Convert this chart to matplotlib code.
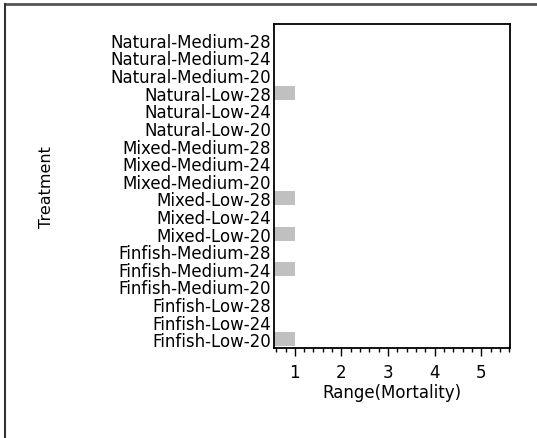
import matplotlib.pyplot as plt
from matplotlib.lines import Line2D
from matplotlib.ticker import MultipleLocator

# Treatments listed bottom to top
treatments = [
    'Finfish-Low-20', 'Finfish-Low-24', 'Finfish-Low-28',
    'Finfish-Medium-20', 'Finfish-Medium-24', 'Finfish-Medium-28',
    'Mixed-Low-20', 'Mixed-Low-24', 'Mixed-Low-28',
    'Mixed-Medium-20', 'Mixed-Medium-24', 'Mixed-Medium-28',
    'Natural-Low-20', 'Natural-Low-24', 'Natural-Low-28',
    'Natural-Medium-20', 'Natural-Medium-24', 'Natural-Medium-28',
]
mortality_range = [1, 0, 0, 0, 1, 0, 1, 0, 1, 0, 0, 0, 0, 0, 1, 0, 0, 0]

plt.rcParams['font.family'] = ['DejaVu Sans']
plt.rcParams['font.size'] = 12

fig = plt.figure(figsize=(5.37, 4.39), dpi=100)
ax = fig.add_axes([0.510, 0.205, 0.440, 0.738])

ypos = list(range(len(treatments)))
ax.barh(ypos, mortality_range, height=0.8, color='#c0c0c0')

ax.set_yticks(ypos)
ax.set_yticklabels(treatments)
ax.tick_params(axis='y', length=0, pad=2)
ax.set_ylim(-0.5, 17.9)

ax.set_xlim(0.55, 5.62)
ax.xaxis.set_major_locator(MultipleLocator(1))
ax.xaxis.set_minor_locator(MultipleLocator(0.2))
ax.tick_params(axis='x', which='major', length=6, width=1, pad=5)
ax.tick_params(axis='x', which='minor', length=3, width=1)

for s in ax.spines.values():
    s.set_linewidth(1.3)
    s.set_color('black')

ax.set_xlabel('Range(Mortality)', labelpad=1)
ax.set_ylabel('Treatment', fontsize=11.5)
ax.yaxis.set_label_coords(-0.93, 0.5)

# partial frame around the whole figure
fig.add_artist(Line2D([5 / 537, 1], [1 - 5 / 439] * 2, transform=fig.transFigure,
                      color='#555555', lw=2))
fig.add_artist(Line2D([5 / 537] * 2, [0, 1 - 5 / 439], transform=fig.transFigure,
                      color='#333333', lw=1.5))

fig.savefig('out.png', dpi=100, facecolor='white')
